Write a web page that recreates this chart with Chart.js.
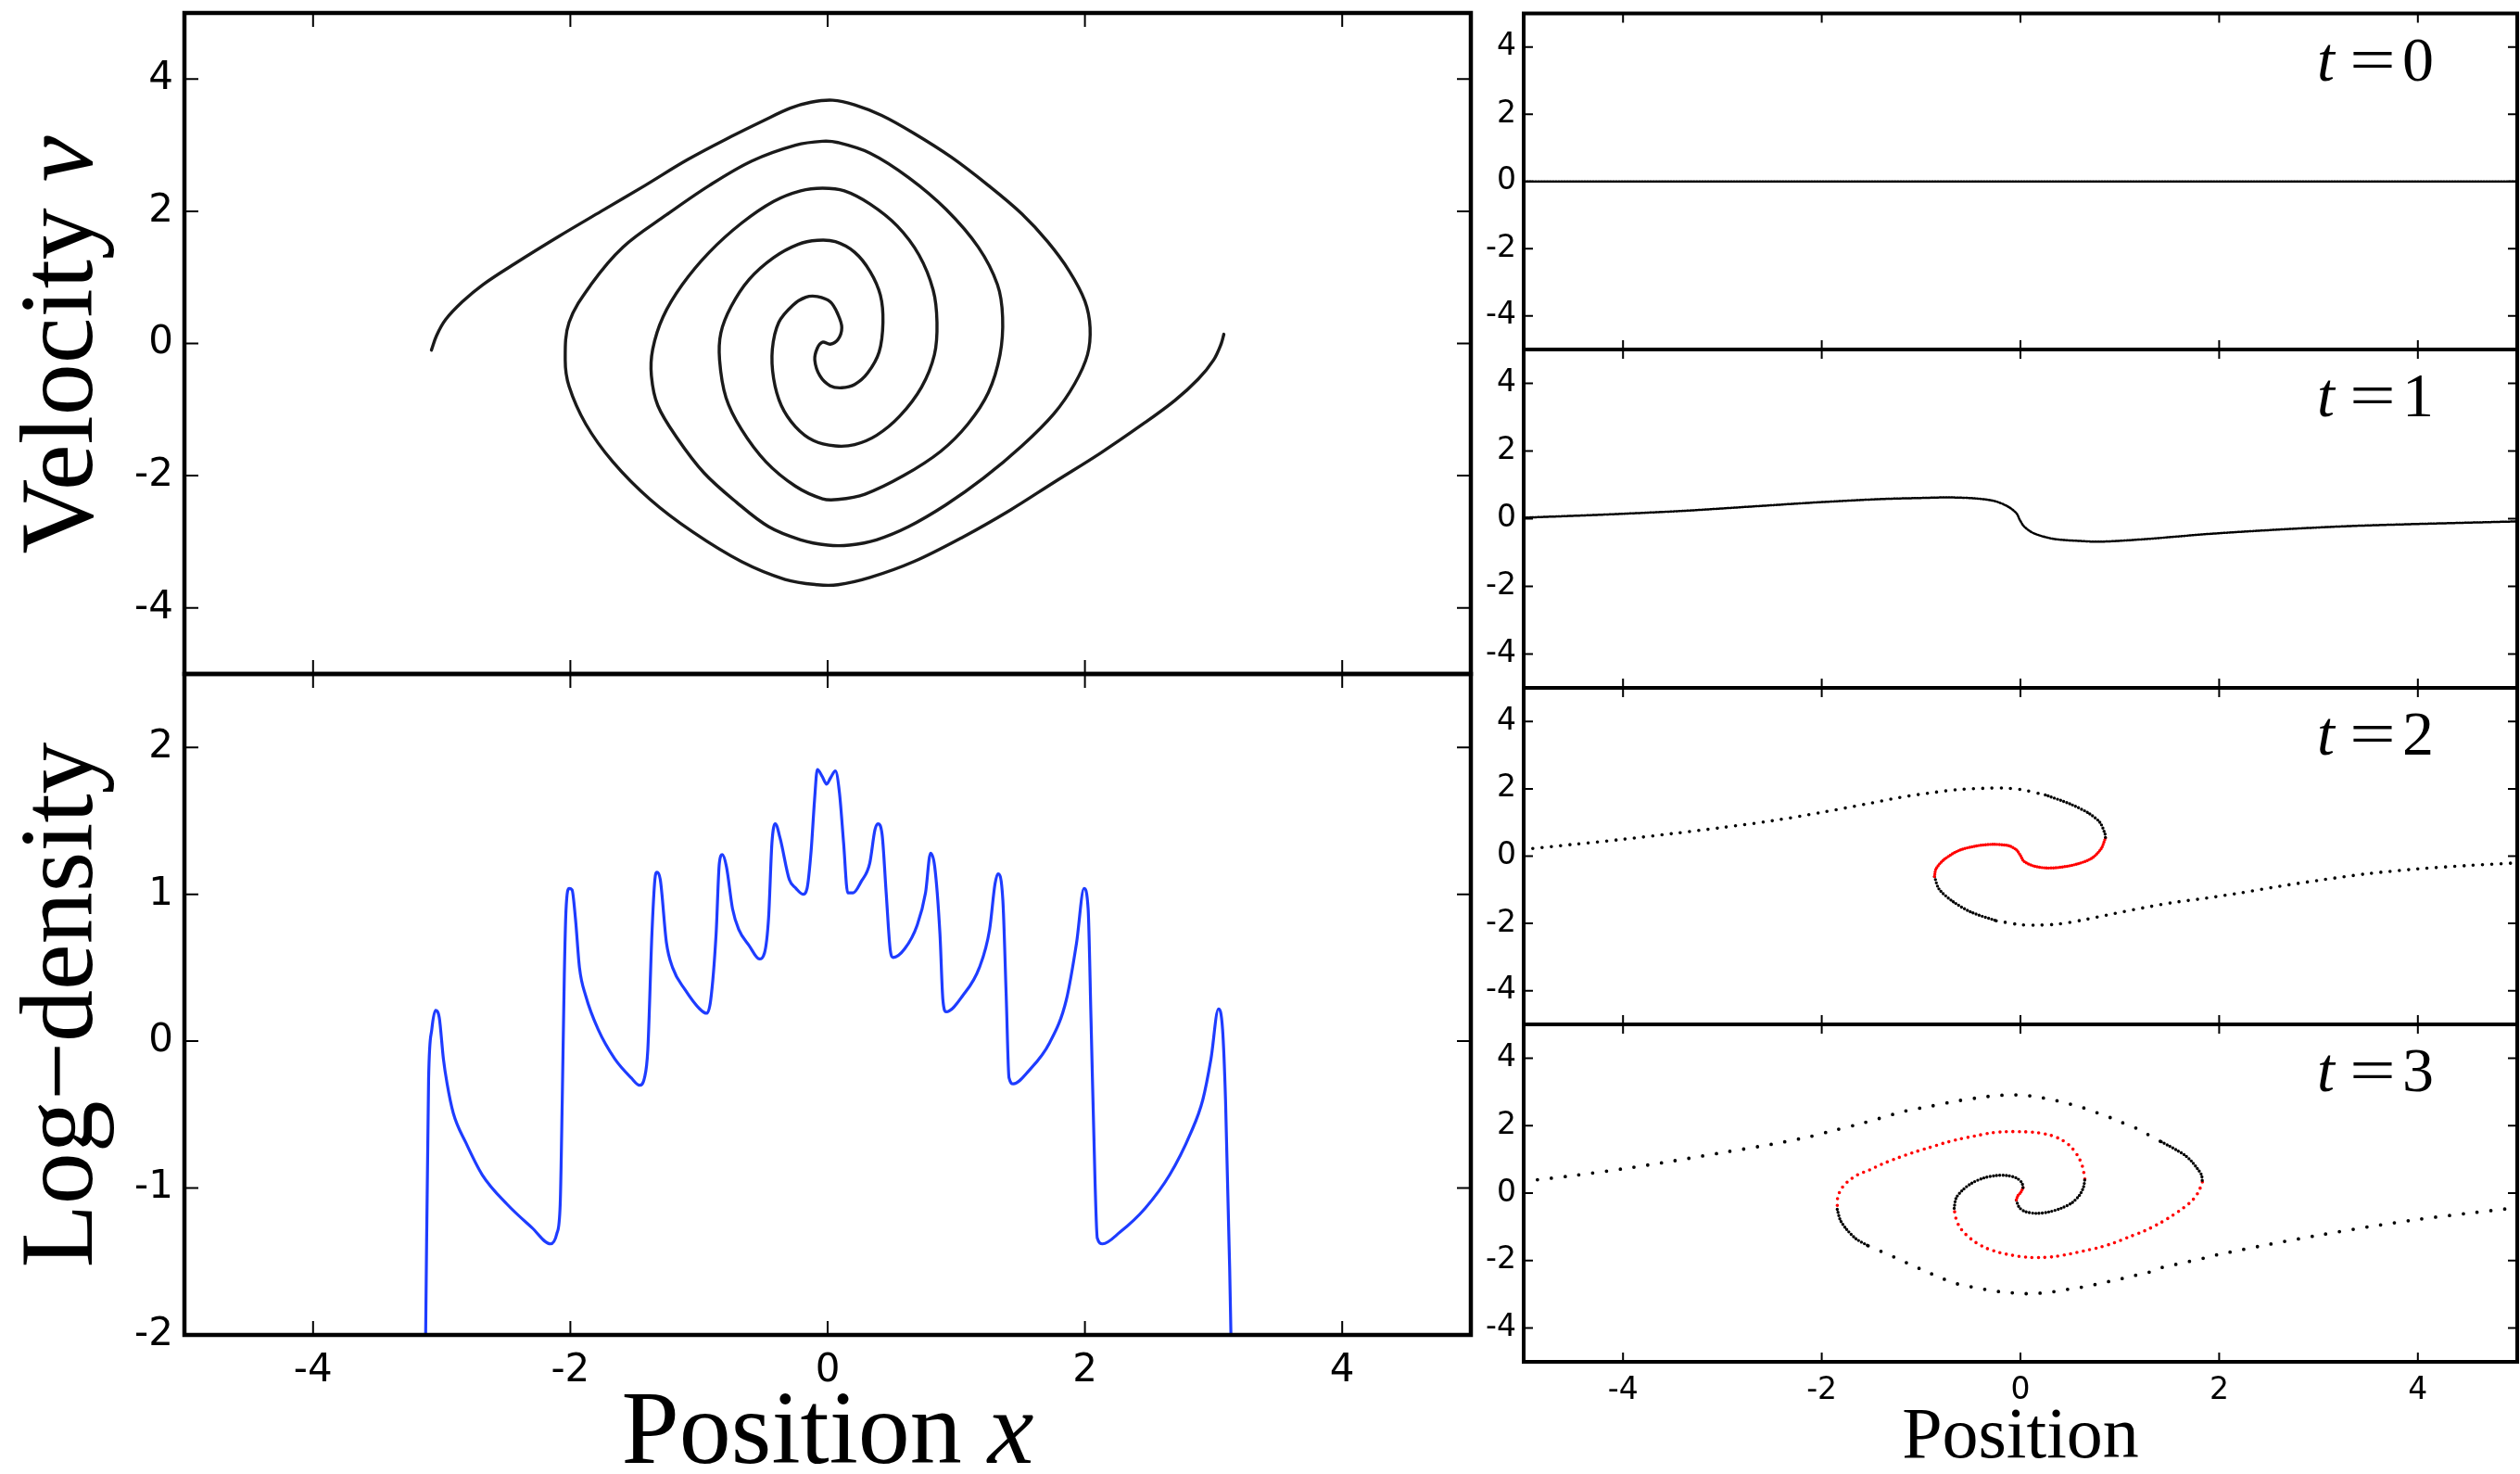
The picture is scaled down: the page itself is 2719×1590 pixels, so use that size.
<!DOCTYPE html>
<html>
<head>
<meta charset="utf-8">
<script src="https://cdn.jsdelivr.net/npm/chart.js@4.4.1/dist/chart.umd.min.js"></script>
<style>
  html, body { margin: 0; padding: 0; background: #fff; }
  body { width: 2719px; height: 1590px; position: relative; overflow: hidden; }
  canvas { position: absolute; }
</style>
</head>
<body>
<canvas id="phase"></canvas>
<canvas id="logDensity"></canvas>
<canvas id="snap0"></canvas>
<canvas id="snap1"></canvas>
<canvas id="snap2"></canvas>
<canvas id="snap3"></canvas>
<script>
// ---- tick values ----
const xTicks = [-4, -2, 0, 2, 4];
const velTicks = [-4, -2, 0, 2, 4];
const logTicks = [-2, -1, 0, 1, 2];
const snapLabels = ['0', '1', '2', '3'];

// ---- phase-space spiral (arm from left end, into the centre, out to the right end) ----
const spiralX = [
  -3.08,-3.04,-2.97,-2.84,-2.68,-2.43,-2.09,-1.76,-1.42,-1.09,
  -0.75,-0.50,-0.29,-0.13,0.04,0.21,0.42,0.67,0.96,1.25,
  1.51,1.71,1.88,2.00,2.04,2.02,1.92,1.76,1.51,1.21,
  0.92,0.63,0.38,0.17,0.00,-0.21,-0.46,-0.71,-0.96,-1.17,
  -1.32,-1.37,-1.36,-1.28,-1.13,-0.92,-0.67,-0.42,-0.21,-0.04,
  0.13,0.33,0.54,0.71,0.82,0.85,0.83,0.73,0.56,0.38,
  0.21,0.06,-0.11,-0.25,-0.36,-0.42,-0.43,-0.38,-0.27,-0.17,
  -0.08,0.02,0.08,0.11,0.08,0.02,
  -0.04,-0.08,-0.10,-0.06,0.02,0.11,0.21,0.31,0.40,0.43,
  0.41,0.33,0.21,0.06,-0.08,-0.23,-0.42,-0.61,-0.75,-0.83,
  -0.84,-0.79,-0.67,-0.48,-0.25,-0.04,0.08,0.29,0.59,0.88,
  1.09,1.25,1.34,1.36,1.32,1.17,0.92,0.63,0.33,0.08,
  -0.04,-0.25,-0.59,-0.92,-1.25,-1.59,-1.84,-2.01,-2.04,-2.01,
  -1.88,-1.67,-1.38,-1.05,-0.67,-0.33,-0.08,0.08,0.33,0.67,
  1.05,1.42,1.76,2.12,2.45,2.70,2.88,3.00,3.06,3.08
];
const spiralV = [
  -0.10,0.12,0.36,0.63,0.89,1.21,1.62,2.00,2.39,2.78,
  3.13,3.37,3.56,3.65,3.68,3.61,3.45,3.18,2.82,2.39,
  1.96,1.54,1.09,0.64,0.24,-0.17,-0.61,-1.06,-1.55,-2.04,
  -2.44,-2.77,-2.97,-3.05,-3.05,-2.97,-2.77,-2.40,-1.96,-1.43,
  -0.94,-0.49,-0.09,0.40,0.89,1.38,1.82,2.15,2.31,2.35,
  2.31,2.11,1.78,1.34,0.81,0.32,-0.17,-0.66,-1.10,-1.39,
  -1.53,-1.55,-1.47,-1.26,-0.94,-0.53,-0.09,0.32,0.58,0.70,
  0.71,0.63,0.44,0.24,0.06,-0.01,
  0.02,-0.07,-0.25,-0.49,-0.64,-0.67,-0.62,-0.45,-0.13,0.32,
  0.73,1.09,1.38,1.54,1.56,1.50,1.30,0.97,0.56,0.16,
  -0.25,-0.82,-1.30,-1.79,-2.16,-2.35,-2.36,-2.28,-2.00,-1.63,
  -1.22,-0.74,-0.17,0.40,0.89,1.46,2.03,2.51,2.88,3.04,
  3.06,3.00,2.76,2.39,1.95,1.46,0.89,0.32,-0.25,-0.65,
  -1.22,-1.79,-2.36,-2.85,-3.30,-3.57,-3.65,-3.65,-3.54,-3.30,
  -2.93,-2.52,-2.10,-1.66,-1.22,-0.86,-0.54,-0.25,0.00,0.14
];

// ---- log-density ----
const densX = [
  -3.125,-3.102,-3.077,-3.048,-3.019,-2.987,-2.958,-2.910,-2.813,-2.685,
  -2.492,-2.298,-2.154,-2.105,-2.079,-2.063,-2.047,-2.034,-2.009,-1.987,
  -1.961,-1.929,-1.881,-1.784,-1.655,-1.527,-1.462,-1.424,-1.398,-1.366,
  -1.343,-1.327,-1.301,-1.253,-1.205,-1.108,-0.995,-0.941,-0.909,-0.867,
  -0.842,-0.819,-0.787,-0.739,-0.691,-0.610,-0.530,-0.491,-0.459,-0.433,
  -0.407,-0.369,-0.298,-0.246,-0.192,-0.160,-0.128,-0.102,-0.080,-0.041,
  -0.008,0.021,0.060,0.092,0.124,0.156,0.198,0.263,0.327,0.368,
  0.391,0.423,0.455,0.487,0.510,0.600,0.696,0.761,0.800,0.832,
  0.873,0.896,0.922,1.050,1.179,1.259,1.301,1.324,1.362,1.388,
  1.410,1.443,1.565,1.726,1.855,1.935,1.993,2.025,2.047,2.079,
  2.096,2.137,2.273,2.466,2.659,2.820,2.916,2.980,3.038,3.070,
  3.093,3.125,3.135
];
const densY = [
  -2.0,-0.26,0.08,0.21,0.16,-0.12,-0.29,-0.49,-0.69,-0.91,
  -1.11,-1.27,-1.38,-1.31,-1.11,-0.40,0.45,0.89,1.04,1.03,
  0.84,0.50,0.31,0.08,-0.12,-0.25,-0.30,-0.25,-0.06,0.73,
  1.10,1.15,1.10,0.67,0.50,0.35,0.22,0.19,0.28,0.73,
  1.21,1.27,1.19,0.90,0.76,0.65,0.56,0.60,0.84,1.35,
  1.48,1.38,1.10,1.04,1.00,1.04,1.30,1.64,1.85,1.80,
  1.75,1.79,1.84,1.69,1.35,1.01,1.01,1.09,1.21,1.44,
  1.48,1.41,1.01,0.62,0.57,0.63,0.79,1.01,1.28,1.19,
  0.73,0.28,0.20,0.31,0.50,0.76,1.07,1.14,0.96,0.31,
  -0.25,-0.29,-0.20,-0.01,0.28,0.67,1.04,0.90,0.16,-0.97,
  -1.34,-1.38,-1.30,-1.14,-0.91,-0.63,-0.40,-0.12,0.22,0.08,
  -0.40,-1.54,-2.0
];

// ---- snapshots t = 0 .. 3 ----
const t0X = [-5, 5];
const t0V = [0, 0];

const t1X = [-5.0,-4.2,-3.4,-2.7,-2.06,-1.4,-0.9,-0.73,-0.46,-0.26,-0.127,-0.04,-0.006,0.04,0.14,0.34,0.61,0.81,1.275,1.9,2.61,3.3,3.95,5.0];
const t1V = [0.03,0.12,0.23,0.36,0.48,0.58,0.62,0.63,0.60,0.52,0.36,0.16,-0.04,-0.24,-0.44,-0.60,-0.66,-0.68,-0.60,-0.45,-0.32,-0.22,-0.16,-0.08];

const t2UpperX = [-5,-4.5,-4,-3.5,-3,-2.5,-2,-1.55,-1.24,-0.93,-0.62,-0.31,-0.15,0.0,0.25];
const t2UpperV = [0.2,0.35,0.5,0.67,0.85,1.05,1.3,1.55,1.73,1.87,1.98,2.02,2.02,1.98,1.82];
const t2FoldRX = [0.25,0.5,0.69,0.80,0.85,0.856];
const t2FoldRV = [1.82,1.55,1.27,1.0,0.67,0.54];
const t2CoreX = [0.856,0.812,0.719,0.564,0.378,0.253,0.129,0.034,-0.002,-0.042,-0.12,-0.275,-0.43,-0.617,-0.772,-0.85,-0.865];
const t2CoreV = [0.54,0.22,-0.06,-0.24,-0.34,-0.35,-0.29,-0.15,0.03,0.19,0.31,0.35,0.31,0.17,-0.11,-0.38,-0.61];
const t2FoldLX = [-0.865,-0.819,-0.679,-0.492,-0.244];
const t2FoldLV = [-0.61,-0.98,-1.35,-1.67,-1.92];
const t2LowerX = [-0.244,0.005,0.191,0.378,0.626,0.937,1.247,1.558,1.869,2.2,2.6,3.0,3.5,4.0,4.5,5.0];
const t2LowerV = [-1.92,-2.04,-2.05,-2.02,-1.90,-1.71,-1.53,-1.37,-1.25,-1.1,-0.9,-0.72,-0.52,-0.38,-0.28,-0.2];

const t3UpperX = [-5,-4.5,-4,-3.5,-3,-2.5,-2.108,-1.89,-1.657,-1.424,-1.175,-0.896,-0.617,-0.337,-0.188,-0.042,0.098,0.228,0.362,0.486,0.595,0.713,0.812,0.921,1.014,1.107,1.185,1.263,1.340,1.418];
const t3UpperV = [0.35,0.52,0.72,0.95,1.2,1.45,1.68,1.85,2.02,2.21,2.42,2.58,2.74,2.86,2.90,2.91,2.88,2.82,2.74,2.65,2.56,2.45,2.33,2.22,2.10,2.01,1.89,1.77,1.64,1.52];
const t3FoldRX = [1.418,1.496,1.574,1.652,1.720,1.782,1.822,1.831];
const t3FoldRV = [1.52,1.40,1.27,1.13,0.95,0.72,0.54,0.33];
const t3RedOuterX = [1.831,1.791,1.729,1.636,1.527,1.403,1.248,1.092,0.937,0.781,0.642,0.502,0.347,0.207,0.067,-0.088,-0.213,-0.353,-0.461,-0.555,-0.617,-0.654,-0.667];
const t3RedOuterV = [0.33,0.03,-0.22,-0.45,-0.67,-0.89,-1.12,-1.30,-1.48,-1.62,-1.71,-1.80,-1.88,-1.91,-1.90,-1.84,-1.76,-1.62,-1.44,-1.21,-0.98,-0.70,-0.45];
const t3InnerUpX = [-0.667,-0.648,-0.586,-0.493,-0.368,-0.244,-0.135,-0.042,0.014,0.026];
const t3InnerUpV = [-0.45,-0.15,0.08,0.29,0.45,0.52,0.52,0.45,0.31,0.16];
const t3CoreX = [0.026,0.005,-0.026,-0.042];
const t3CoreV = [0.16,0.03,-0.08,-0.21];
const t3InnerLowX = [-0.042,-0.011,0.051,0.160,0.284,0.409,0.517,0.595,0.636,0.648];
const t3InnerLowV = [-0.21,-0.43,-0.55,-0.60,-0.56,-0.45,-0.29,-0.06,0.19,0.42];
const t3RedMidX = [0.648,0.626,0.58,0.502,0.409,0.284,0.144,0.005,-0.150,-0.306,-0.461,-0.617,-0.772,-0.927,-1.083,-1.238,-1.393,-1.517,-1.641,-1.735,-1.797,-1.838,-1.844];
const t3RedMidV = [0.42,0.77,1.09,1.39,1.59,1.73,1.80,1.82,1.82,1.78,1.69,1.60,1.48,1.34,1.20,1.04,0.86,0.69,0.54,0.35,0.15,-0.11,-0.48];
const t3FoldLX = [-1.844,-1.813,-1.751,-1.657,-1.533];
const t3FoldLV = [-0.48,-0.80,-1.07,-1.35,-1.56];
const t3LowerX = [-1.533,-1.393,-1.253,-1.113,-0.958,-0.803,-0.648,-0.508,-0.383,-0.244,-0.104,0.036,0.176,0.315,0.455,0.595,0.735,0.874,1.014,1.138,1.278,1.403,1.527,1.652,1.761,1.869,1.978,2.093,2.5,3.0,3.5,4.0,4.5,5.0];
const t3LowerV = [-1.56,-1.74,-1.92,-2.11,-2.31,-2.51,-2.68,-2.77,-2.84,-2.91,-2.95,-2.98,-2.97,-2.93,-2.86,-2.80,-2.72,-2.63,-2.54,-2.45,-2.36,-2.22,-2.14,-2.05,-1.99,-1.91,-1.83,-1.76,-1.52,-1.25,-1.0,-0.78,-0.6,-0.43];

// ---- helpers ----
const SERIF = '"Liberation Serif", "Times New Roman", serif';
const SANS = '"DejaVu Sans", sans-serif';
const RED = '#ff0000';
const INK = '#000000';

const pts = (xs, ys) => xs.map((x, i) => ({ x: x, y: ys[i] }));

function curve(xs, ys, color, width, dash, tension, mode) {
  return {
    data: pts(xs, ys),
    showLine: true,
    pointRadius: 0,
    borderColor: color,
    borderWidth: width,
    borderDash: dash || [],
    borderCapStyle: 'round',
    borderJoinStyle: 'round',
    tension: tension === undefined ? 0.3 : tension,
    cubicInterpolationMode: mode || 'default',
    fill: false
  };
}

// box frame + inward ticks on all four sides
Chart.register({
  id: 'frame',
  afterDatasetsDraw(chart, args, o) {
    if (!o || !o.xTicks) return;
    const ctx = chart.ctx, a = chart.chartArea;
    const sx = chart.scales.x, sy = chart.scales.y;
    ctx.save();
    ctx.strokeStyle = '#000';
    ctx.lineWidth = o.tickWidth;
    ctx.beginPath();
    o.xTicks.forEach(v => {
      const p = sx.getPixelForValue(v);
      ctx.moveTo(p, a.top); ctx.lineTo(p, a.top + o.tickLen);
      ctx.moveTo(p, a.bottom); ctx.lineTo(p, a.bottom - o.tickLen);
    });
    o.yTicks.forEach(v => {
      const p = sy.getPixelForValue(v);
      ctx.moveTo(a.left, p); ctx.lineTo(a.left + o.tickLen, p);
      ctx.moveTo(a.right, p); ctx.lineTo(a.right - o.tickLen, p);
    });
    ctx.stroke();
    ctx.lineWidth = o.lineWidth;
    ctx.strokeRect(a.left, a.top, a.right - a.left, a.bottom - a.top);
    ctx.restore();
  }
});

// draw a run of text pieces [{t, italic}] starting at x on baseline y
function textRun(ctx, parts, size, x, y) {
  parts.forEach(p => {
    ctx.font = (p.italic ? 'italic ' : '') + size + 'px ' + SERIF;
    ctx.fillText(p.t, x, y);
    x += ctx.measureText(p.t).width;
  });
}
function runWidth(ctx, parts, size) {
  let w = 0;
  parts.forEach(p => {
    ctx.font = (p.italic ? 'italic ' : '') + size + 'px ' + SERIF;
    w += ctx.measureText(p.t).width;
  });
  return w;
}

function makePanel(id, box, area, cfg) {
  const cv = document.getElementById(id);
  cv.width = box.w; cv.height = box.h;
  cv.style.left = box.x + 'px'; cv.style.top = box.y + 'px';
  const showX = !!cfg.xFont;
  const bottomSpace = box.y + box.h - area.b;
  return new Chart(cv, {
    type: 'scatter',
    data: { datasets: cfg.datasets },
    options: {
      responsive: false,
      animation: false,
      devicePixelRatio: 1,
      events: [],
      layout: { padding: { left: 0, top: area.t - box.y, right: box.x + box.w - area.r, bottom: showX ? 0 : bottomSpace } },
      plugins: {
        legend: { display: false },
        tooltip: { enabled: false },
        frame: { xTicks: xTicks, yTicks: cfg.yTicks, tickLen: cfg.tickLen, tickWidth: 2, lineWidth: cfg.frameWidth }
      },
      scales: {
        x: {
          type: 'linear', min: -5, max: 5, display: showX,
          afterBuildTicks: s => { s.ticks = xTicks.map(v => ({ value: v })); },
          afterFit: s => { if (showX) s.height = bottomSpace; s.paddingLeft = 0; s.paddingRight = 0; },
          grid: { display: false, drawTicks: false },
          border: { display: false },
          ticks: { padding: cfg.xPad || 0, color: '#000', maxRotation: 0, autoSkip: false,
                   font: { family: SANS, size: cfg.xFont || 12 }, callback: v => String(v) }
        },
        y: {
          type: 'linear', min: cfg.yMin, max: cfg.yMax,
          afterBuildTicks: s => { s.ticks = cfg.yTicks.map(v => ({ value: v })); },
          afterFit: s => { s.width = area.l - box.x; s.paddingTop = 0; s.paddingBottom = 0; },
          grid: { display: false, drawTicks: false },
          border: { display: false },
          ticks: { padding: cfg.yPad, color: '#000', autoSkip: false,
                   font: { family: SANS, size: cfg.yFont }, callback: v => String(v) }
        }
      }
    },
    plugins: [{
      id: 'labels-' + id,
      afterDraw(chart) { if (cfg.draw) cfg.draw(chart.ctx, chart.chartArea, box); }
    }]
  });
}

// rotated y-axis title, baseline at page x = bx, centred on page y = cy
function yTitle(ctx, box, parts, size, bx, cy) {
  ctx.save();
  ctx.fillStyle = '#000';
  ctx.translate(bx - box.x, cy - box.y);
  ctx.rotate(-Math.PI / 2);
  const w = runWidth(ctx, parts, size);
  textRun(ctx, parts, size, -w / 2, 0);
  ctx.restore();
}
function xTitle(ctx, box, parts, size, cx, by) {
  ctx.save();
  ctx.fillStyle = '#000';
  const w = runWidth(ctx, parts, size);
  textRun(ctx, parts, size, cx - box.x - w / 2, by - box.y);
  ctx.restore();
}
function timeTag(ctx, a, label) {
  ctx.save();
  ctx.fillStyle = '#000';
  const base = a.top + 72;
  ctx.font = 'italic 68px ' + SERIF;
  ctx.fillText('t', a.right - 216, base);
  ctx.font = '68px ' + SERIF;
  ctx.save();
  ctx.translate(a.right - 156, base);
  ctx.scale(1.3, 1);
  ctx.textAlign = 'center';
  ctx.fillText('=', 0, 0);
  ctx.restore();
  ctx.fillText(label, a.right - 124, base);
  ctx.restore();
}

// ---- left column ----
const LEFT_L = 199, LEFT_R = 1587;

makePanel('phase',
  { x: 0, y: 0, w: 1610, h: 745 },
  { l: LEFT_L, t: 14, r: LEFT_R, b: 727 },
  {
    yMin: -5, yMax: 5, yTicks: velTicks, yFont: 42, yPad: 12, tickLen: 15, frameWidth: 4.5,
    datasets: [curve(spiralX, spiralV, '#1a1a1a', 3.4, null, 0.35)],
    draw: (ctx, a, box) => yTitle(ctx, box, [{ t: 'Velocity ' }, { t: 'v', italic: true }], 112, 99, 372)
  });

makePanel('logDensity',
  { x: 0, y: 710, w: 1610, h: 880 },
  { l: LEFT_L, t: 727, r: LEFT_R, b: 1440 },
  {
    yMin: -2, yMax: 2.5, yTicks: logTicks, yFont: 42, yPad: 12, xFont: 42, xPad: 14, tickLen: 15, frameWidth: 4.5,
    datasets: [curve(densX, densY, '#1e3cff', 3.2, null, 0.4, 'monotone')],
    draw: (ctx, a, box) => {
      yTitle(ctx, box, [{ t: 'Log\u2212density' }], 112, 99, 1084);
      xTitle(ctx, box, [{ t: 'Position ' }, { t: 'x', italic: true }], 112, 893, 1578);
    }
  });

// ---- right column: snapshots ----
const R_L = 1644, R_R = 2716;
const rowTops = [14.5, 377, 742, 1105, 1469];
const SPARSE = [0, 10], DENSE = [0, 3.5], FINE = [1.5, 1.6];

const snapSets = [
  [curve(t0X, t0V, INK, 2.5, FINE, 0)],
  [curve(t1X, t1V, INK, 2.5, FINE, 0.3)],
  [
    curve(t2UpperX, t2UpperV, INK, 3.6, SPARSE),
    curve(t2FoldRX, t2FoldRV, INK, 3.4, DENSE),
    curve(t2CoreX, t2CoreV, RED, 3.4, [0, 2.5]),
    curve(t2FoldLX, t2FoldLV, INK, 3.4, DENSE),
    curve(t2LowerX, t2LowerV, INK, 3.6, SPARSE)
  ],
  [
    curve(t3UpperX, t3UpperV, INK, 3.8, [0, 15]),
    curve(t3FoldRX, t3FoldRV, INK, 3.4, DENSE),
    curve(t3RedOuterX, t3RedOuterV, RED, 3.6, [0, 7]),
    curve(t3InnerUpX, t3InnerUpV, INK, 3.4, DENSE),
    curve(t3CoreX, t3CoreV, RED, 3.4, [0, 2.5]),
    curve(t3InnerLowX, t3InnerLowV, INK, 3.4, DENSE),
    curve(t3RedMidX, t3RedMidV, RED, 3.6, [0, 7]),
    curve(t3FoldLX, t3FoldLV, INK, 3.4, DENSE),
    curve(t3LowerX, t3LowerV, INK, 3.8, [0, 15])
  ]
];

snapSets.forEach((sets, i) => {
  const last = i === snapSets.length - 1;
  const top = rowTops[i], bottom = rowTops[i + 1];
  const y0 = Math.floor(top) - 12;
  const box = { x: 1590, y: y0, w: 1129, h: last ? 1590 - y0 : (bottom + 14) - y0 };
  makePanel('snap' + i, box, { l: R_L, t: top, r: R_R, b: bottom }, {
    yMin: -5, yMax: 5, yTicks: velTicks, yFont: 33, yPad: 8, tickLen: 10, frameWidth: 4,
    xFont: last ? 33 : 0, xPad: 12,
    datasets: sets,
    draw: (ctx, a, b) => {
      timeTag(ctx, a, snapLabels[i]);
      if (last) xTitle(ctx, b, [{ t: 'Position' }], 78, 2180, 1572);
    }
  });
});
</script>
</body>
</html>
